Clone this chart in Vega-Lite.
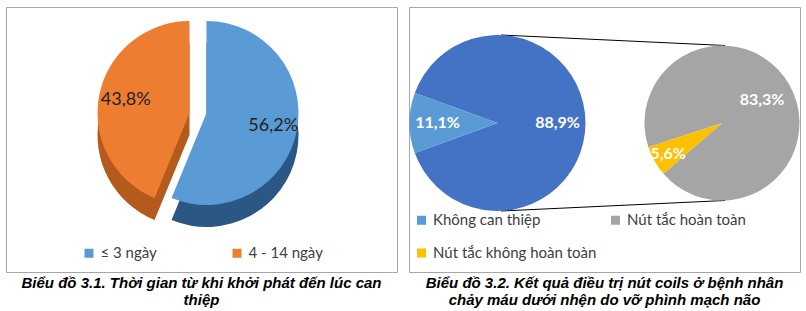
{
  "$schema": "https://vega.github.io/schema/vega-lite/v6.json",
  "padding": {"left": 5, "top": 6, "right": 5, "bottom": 0},
  "spacing": 10,
  "background": "white",
  "config": {
    "view": {"stroke": "#A6A6A6", "strokeWidth": 1},
    "arc": {"stroke": null},
    "title": {"orient": "bottom", "anchor": "middle", "offset": 4, "font": "Liberation Sans", "fontSize": 15, "fontStyle": "italic", "fontWeight": "bold", "lineHeight": 17, "color": "#000000"},
    "legend": {"orient": "none", "direction": "horizontal", "title": null, "symbolType": "square", "symbolSize": 81, "symbolStrokeWidth": 0, "labelFont": "Lato", "labelFontSize": 15, "labelColor": "#404040", "labelOffset": 4, "labelLimit": 400, "columns": 2}
  },
  "hconcat": [
    {
      "width": 391,
      "height": 265,
      "view": {"stroke": "#A6A6A6", "strokeWidth": 1},
      "title": {"text": ["Biểu đồ 3.1. Thời gian từ khi khởi phát đến lúc can", "thiệp"]},
      "data": {"values": [
        {"nhom": "≤ 3 ngày", "ty_le": 56.2, "nhan": "56,2%"},
        {"nhom": "4 - 14 ngày", "ty_le": 43.8, "nhan": "43,8%"}
      ]},
      "transform": [{"stack": "ty_le", "groupby": [], "sort": [{"field": "ty_le", "order": "descending"}], "as": ["t0", "t1"]}],
      "layer": [
        {
          "transform": [{"filter": "datum.nhom === '≤ 3 ngày'"}],
          "mark": {"type": "arc", "outerRadius": 92, "xOffset": 5, "yOffset": -4.5, "color": "#2A5784"},
          "encoding": {
            "theta": {"field": "t0", "type": "quantitative", "scale": {"domain": [0, 100], "range": [0, 6.2832]}},
            "theta2": {"field": "t1"}
          }
        },
        {
          "transform": [{"filter": "datum.nhom === '4 - 14 ngày'"}],
          "mark": {"type": "arc", "outerRadius": 92, "xOffset": -12, "yOffset": -4.5, "color": "#B35A1C"},
          "encoding": {
            "theta": {"field": "t0", "type": "quantitative", "scale": {"domain": [0, 100], "range": [0, 6.2832]}},
            "theta2": {"field": "t1"}
          }
        },
        {
          "transform": [{"filter": "datum.nhom === '≤ 3 ngày'"}],
          "mark": {"type": "arc", "outerRadius": 92, "xOffset": 5, "yOffset": -26.5},
          "encoding": {
            "theta": {"field": "t0", "type": "quantitative", "scale": {"domain": [0, 100], "range": [0, 6.2832]}},
            "theta2": {"field": "t1"},
            "color": {"field": "nhom", "type": "nominal", "scale": {"domain": ["≤ 3 ngày", "4 - 14 ngày"], "range": ["#5B9BD5", "#ED7D31"]}, "legend": {"legendX": 75.5, "legendY": 238.5, "columnPadding": 72}}
          }
        },
        {
          "transform": [{"filter": "datum.nhom === '4 - 14 ngày'"}],
          "mark": {"type": "arc", "outerRadius": 92, "xOffset": -12, "yOffset": -26.5},
          "encoding": {
            "theta": {"field": "t0", "type": "quantitative", "scale": {"domain": [0, 100], "range": [0, 6.2832]}},
            "theta2": {"field": "t1"},
            "color": {"field": "nhom", "type": "nominal", "scale": {"domain": ["≤ 3 ngày", "4 - 14 ngày"], "range": ["#5B9BD5", "#ED7D31"]}, "legend": {"legendX": 75.5, "legendY": 238.5, "columnPadding": 72}}
          }
        },
        {
          "mark": {"type": "text", "radius": 68, "xOffset": 5, "yOffset": -26.5, "font": "Lato", "fontSize": 18, "color": "#1F1F1F"},
          "encoding": {
            "theta": {"field": "ty_le", "type": "quantitative", "stack": true, "scale": {"domain": [0, 100], "range": [0, 6.2832]}},
            "order": {"field": "ty_le", "sort": "descending"},
            "detail": {"field": "nhom"},
            "text": {"condition": {"test": "datum.nhom === '≤ 3 ngày'", "field": "nhan", "type": "nominal"}, "value": ""}
          }
        },
        {
          "mark": {"type": "text", "radius": 65, "xOffset": -12, "yOffset": -26.5, "font": "Lato", "fontSize": 18, "color": "#1F1F1F"},
          "encoding": {
            "theta": {"field": "ty_le", "type": "quantitative", "stack": true, "scale": {"domain": [0, 100], "range": [0, 6.2832]}},
            "order": {"field": "ty_le", "sort": "descending"},
            "detail": {"field": "nhom"},
            "text": {"condition": {"test": "datum.nhom === '4 - 14 ngày'", "field": "nhan", "type": "nominal"}, "value": ""}
          }
        }
      ]
    },
    {
      "width": 391,
      "height": 265,
      "title": {"text": ["Biểu đồ 3.2. Kết quả điều trị nút coils ở bệnh nhân", "chảy máu dưới nhện do vỡ phình mạch não"]},
      "data": {"values": [
        {"pie": "Chính", "nhom": "Can thiệp", "ty_le": 88.9, "nhan": "88,9%"},
        {"pie": "Chính", "nhom": "Không can thiệp", "ty_le": 11.1, "nhan": "11,1%"},
        {"pie": "Phụ", "nhom": "Nút tắc hoàn toàn", "ty_le": 83.3, "nhan": "83,3%"},
        {"pie": "Phụ", "nhom": "Nút tắc không hoàn toàn", "ty_le": 5.6, "nhan": "5,6%"}
      ]},
      "layer": [
        {
          "data": {"values": [{"canh": "trên"}]},
          "mark": {"type": "rule", "color": "#000000", "strokeWidth": 1, "xOffset": 3.5, "x2Offset": 3},
          "encoding": {
            "x": {"datum": "Chính", "type": "nominal", "scale": {"type": "point", "padding": 0, "domain": ["Chính", "Phụ"], "range": [88.5, 313]}, "axis": null},
            "x2": {"datum": "Phụ"},
            "y": {"value": {"expr": "height/2 - 16.5 - 88"}},
            "y2": {"value": {"expr": "height/2 - 16.5 - 77.5"}}
          }
        },
        {
          "data": {"values": [{"canh": "dưới"}]},
          "mark": {"type": "rule", "color": "#000000", "strokeWidth": 1, "xOffset": 3.5, "x2Offset": 3},
          "encoding": {
            "x": {"datum": "Chính", "type": "nominal", "scale": {"type": "point", "padding": 0, "domain": ["Chính", "Phụ"], "range": [88.5, 313]}, "axis": null},
            "x2": {"datum": "Phụ"},
            "y": {"value": {"expr": "height/2 - 16.5 + 88"}},
            "y2": {"value": {"expr": "height/2 - 16.5 + 77.5"}}
          }
        },
        {
          "transform": [{"filter": "datum.pie === 'Chính'"}],
          "encoding": {
            "x": {"field": "pie", "type": "nominal", "scale": {"type": "point", "padding": 0, "domain": ["Chính", "Phụ"], "range": [88.5, 313]}, "axis": null},
            "theta": {"field": "ty_le", "type": "quantitative", "stack": true, "scale": {"domain": [0, 100], "range": [5.0615, 11.3447]}},
            "order": {"field": "ty_le", "sort": "descending"}
          },
          "layer": [
            {
              "mark": {"type": "arc", "outerRadius": 88, "yOffset": -16.5},
              "encoding": {
                "color": {"field": "nhom", "type": "nominal", "scale": {"domain": ["Không can thiệp", "Nút tắc hoàn toàn", "Nút tắc không hoàn toàn", "Can thiệp"], "range": ["#5B9BD5", "#A5A5A5", "#FFC000", "#4472C4"]}, "legend": {"values": ["Không can thiệp", "Nút tắc hoàn toàn", "Nút tắc không hoàn toàn"], "legendX": 5, "legendY": 205.5, "columnPadding": 11, "rowPadding": 17}}
              }
            },
            {
              "mark": {"type": "text", "radius": 60, "yOffset": -16.5, "font": "Lato", "fontSize": 16, "fontWeight": "bold", "color": "#FFFFFF"},
              "encoding": {"detail": {"field": "nhom"}, "text": {"field": "nhan"}}
            }
          ]
        },
        {
          "transform": [{"filter": "datum.pie === 'Phụ'"}],
          "encoding": {
            "x": {"field": "pie", "type": "nominal", "scale": {"type": "point", "padding": 0, "domain": ["Chính", "Phụ"], "range": [88.5, 313]}, "axis": null},
            "theta": {"field": "ty_le", "type": "quantitative", "stack": true, "scale": {"domain": [0, 88.9], "range": [4.393, 10.6762]}},
            "order": {"field": "ty_le", "sort": "descending"}
          },
          "layer": [
            {
              "mark": {"type": "arc", "outerRadius": 77.5, "yOffset": -16.5},
              "encoding": {
                "color": {"field": "nhom", "type": "nominal", "scale": {"domain": ["Không can thiệp", "Nút tắc hoàn toàn", "Nút tắc không hoàn toàn", "Can thiệp"], "range": ["#5B9BD5", "#A5A5A5", "#FFC000", "#4472C4"]}, "legend": {"values": ["Không can thiệp", "Nút tắc hoàn toàn", "Nút tắc không hoàn toàn"], "legendX": 5, "legendY": 205.5, "columnPadding": 11, "rowPadding": 17}}
              }
            },
            {
              "mark": {"type": "text", "radius": 46, "yOffset": -16.5, "font": "Lato", "fontSize": 16, "fontWeight": "bold", "color": "#FFFFFF"},
              "encoding": {"detail": {"field": "nhom"}, "text": {"condition": {"test": "datum.nhom === 'Nút tắc hoàn toàn'", "field": "nhan", "type": "nominal"}, "value": ""}}
            },
            {
              "mark": {"type": "text", "radius": 62, "yOffset": -16.5, "font": "Lato", "fontSize": 16, "fontWeight": "bold", "color": "#FFFFFF"},
              "encoding": {"detail": {"field": "nhom"}, "text": {"condition": {"test": "datum.nhom === 'Nút tắc không hoàn toàn'", "field": "nhan", "type": "nominal"}, "value": ""}}
            }
          ]
        }
      ],
      "resolve": {"scale": {"theta": "independent"}}
    }
  ],
  "resolve": {"scale": {"color": "independent"}, "legend": {"color": "independent"}}
}
